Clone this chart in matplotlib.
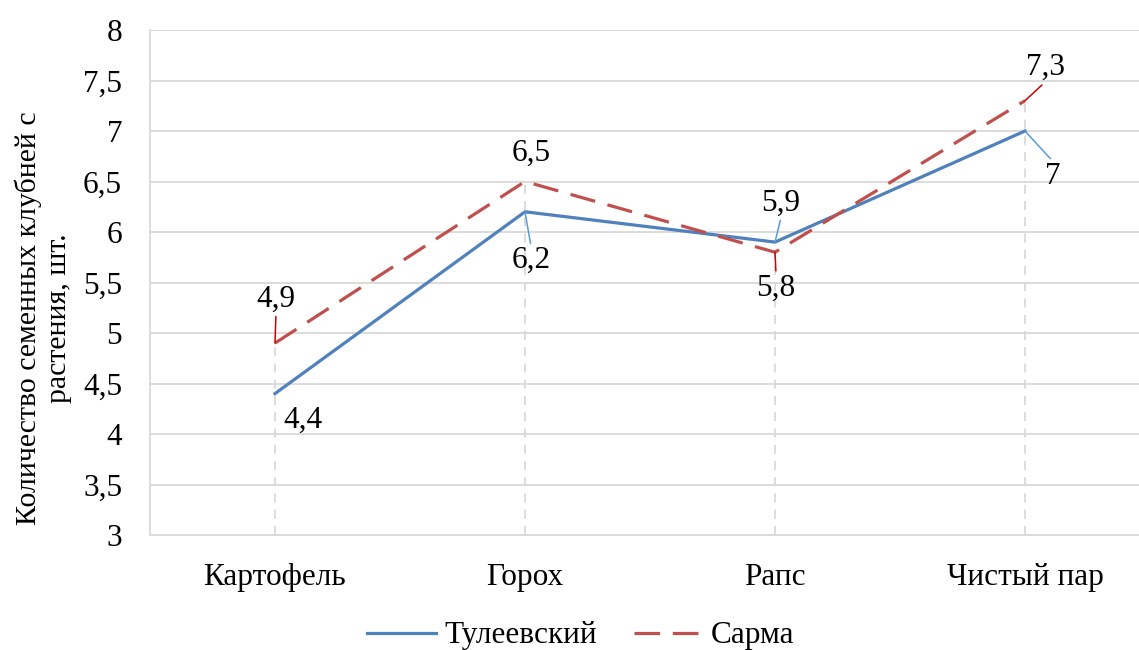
import matplotlib
matplotlib.use("Agg")
import matplotlib.pyplot as plt
import numpy as np

categories = ["Картофель", "Горох", "Рапс", "Чистый пар"]
tuleevsky = [4.4, 6.2, 5.9, 7.0]
sarma = [4.9, 6.5, 5.8, 7.3]
tuleevsky_labels = ["4,4", "6,2", "5,9", "7"]
sarma_labels = ["4,9", "6,5", "5,8", "7,3"]
yticks = [3, 3.5, 4, 4.5, 5, 5.5, 6, 6.5, 7, 7.5, 8]
ytick_labels = ["3", "3,5", "4", "4,5", "5", "5,5", "6", "6,5", "7", "7,5", "8"]

plt.rcParams['font.family'] = ['Liberation Serif', 'DejaVu Serif']

W, H = 1139, 650
fig = plt.figure(figsize=(W / 100, H / 100), dpi=100)
ax = fig.add_axes([150 / W, 115 / H, 1000 / W, 505 / H])

blue = "#4F81BD"
red = "#C0504D"
x = np.arange(len(categories))

ax.set_xlim(-0.5, len(categories) - 0.5)
ax.set_ylim(3, 8)
ax.set_yticks(yticks)
ax.set_yticklabels(ytick_labels, fontsize=22.5)
ax.set_xticks(x)
ax.set_xticklabels(categories, fontsize=22.5)
ax.tick_params(axis='both', length=0)
ax.tick_params(axis='y', pad=20)
ax.tick_params(axis='x', pad=20)
ax.grid(axis='y', color="#D9D9D9", linewidth=1.3)
ax.set_axisbelow(True)
for s in ["top", "right"]:
    ax.spines[s].set_visible(False)
for s in ["left", "bottom"]:
    ax.spines[s].set_color("#D9D9D9")
    ax.spines[s].set_linewidth(1.3)

# drop lines
for xi, a, b in zip(x, tuleevsky, sarma):
    ax.plot([xi, xi], [3, max(a, b)], color="#D9D9D9", linewidth=1.3,
            linestyle=(0, (5, 4)), zorder=1)

ax.plot(x, tuleevsky, color=blue, linewidth=2.3, label="Тулеевский", zorder=3)
ax.plot(x, sarma, color=red, linewidth=2.3, linestyle=(0, (8, 4)),
        label="Сарма", zorder=3)

# (dx, dy, leader relpos or None) in pixels
t_off = [(28, -27, None), (6, -49, (0.5, 1)), (6, 39, (0.5, 0)), (28, -45, (0.5, 1))]
s_off = [(1, 44, (0.5, 0)), (6, 28, None), (1, -36, (0.5, 1)), (20, 33, (0.5, 0))]


def put_labels(vals, labels, offs, lead_color):
    for xi, v, lab, (dx, dy, rel) in zip(x, vals, labels, offs):
        kw = {}
        if rel is not None:
            kw["arrowprops"] = dict(arrowstyle='-', color=lead_color, lw=1.1,
                                    shrinkA=0, shrinkB=0, relpos=rel)
        ax.annotate(lab, xy=(xi, v), xytext=(dx, dy),
                    textcoords='offset pixels', ha='center', va='center',
                    fontsize=22.5, zorder=4, **kw)


put_labels(tuleevsky, tuleevsky_labels, t_off, "#5B9BD5")
put_labels(sarma, sarma_labels, s_off, "#D00000")

ax.set_ylabel("Количество семенных клубней с\nрастения, шт.", fontsize=21.5,
              linespacing=1.2)
ax.yaxis.set_label_coords(-0.078, 0.43)

fig.legend(loc='center', bbox_to_anchor=(581 / W, 14 / H), ncol=2,
           frameon=False, fontsize=22.5, handlelength=2.2, columnspacing=1.2,
           handletextpad=0.26)

fig.savefig("out.png", dpi=100)
